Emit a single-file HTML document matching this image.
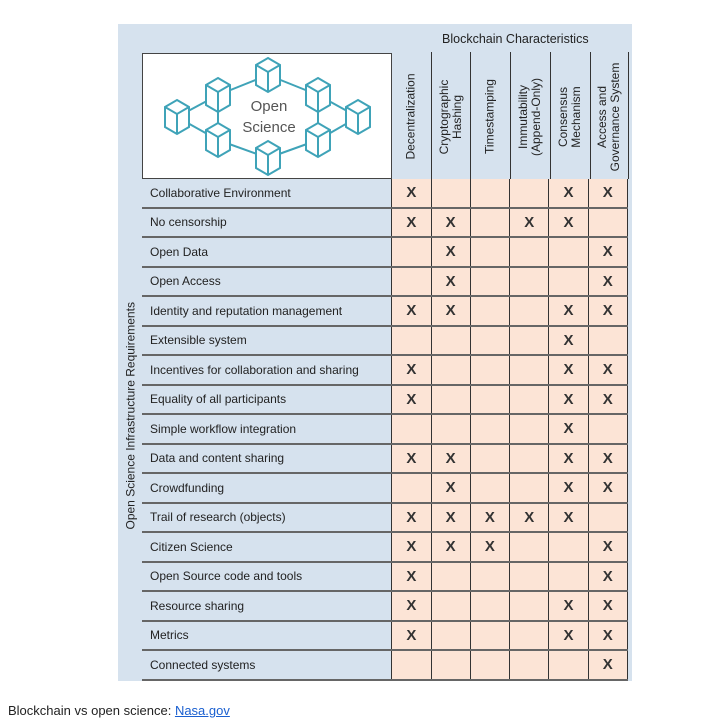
<!DOCTYPE html>
<html><head><meta charset="utf-8"><style>
body{margin:0;background:#fff;width:728px;height:725px;position:relative;font-family:"Liberation Sans",sans-serif;overflow:hidden}
.panel{position:absolute;left:118px;top:24px;width:514px;height:657px;background:#d6e2ee}
.img{position:absolute;left:142px;top:53px;width:248px;height:124px;background:#fff;border:1px solid #444;border-bottom:2px solid #444}
table{position:absolute;left:142px;top:179px;border-collapse:collapse;width:486px;font-size:12px;color:#222}
td{height:27.5px;border-bottom:2px solid #666;padding:0}
td.l{width:243px;padding-left:8px;background:#d6e2ee}
td.c{width:38.6px;background:#fce4d6;border-left:1px solid #333;text-align:center;font-size:15px;font-weight:bold;color:#333}
td.c:last-child{border-right:1px solid #333}
.hdr{position:absolute;top:52px;height:127px;border-left:1px solid #333;}
.vt{position:absolute;font-size:12px;color:#222;transform:rotate(-90deg);transform-origin:center;white-space:nowrap;text-align:center;line-height:13px}
</style></head><body>
<div class="panel"></div>
<div style="position:absolute;left:442px;top:32px;font-size:12.5px;color:#222">Blockchain Characteristics</div>
<div class="img"></div>
<svg style="position:absolute;left:0;top:0" width="728" height="200">
<defs><g id="cb" fill="#fff" stroke="#3fa3b8" stroke-width="2"><polygon points="0,-17 12,-10 12,10 0,17 -12,10 -12,-10"/><polyline fill="none" points="-12,-10 0,-3 12,-10"/><line x1="0" y1="-3" x2="0" y2="17"/></g></defs>
<g stroke="#3fa3b8" stroke-width="2">
<line x1="177" y1="117" x2="218" y2="95"/><line x1="177" y1="117" x2="218" y2="140"/><line x1="218" y1="95" x2="218" y2="140"/>
<line x1="218" y1="95" x2="268" y2="75"/><line x1="268" y1="75" x2="318" y2="95"/><line x1="318" y1="95" x2="318" y2="140"/>
<line x1="318" y1="95" x2="358" y2="117"/><line x1="358" y1="117" x2="318" y2="140"/><line x1="218" y1="140" x2="268" y2="158"/><line x1="268" y1="158" x2="318" y2="140"/></g>
<use href="#cb" x="177" y="117"/><use href="#cb" x="218" y="95"/><use href="#cb" x="268" y="75"/><use href="#cb" x="318" y="95"/><use href="#cb" x="358" y="117"/><use href="#cb" x="218" y="140"/><use href="#cb" x="268" y="158"/><use href="#cb" x="318" y="140"/>
<text x="269" y="111" font-family="Liberation Sans" font-size="15" fill="#555" text-anchor="middle">Open</text>
<text x="269" y="132" font-family="Liberation Sans" font-size="15" fill="#555" text-anchor="middle">Science</text>
</svg>
<div class="hdr" style="left:431px"></div><div class="hdr" style="left:470px"></div><div class="hdr" style="left:510px"></div><div class="hdr" style="left:550px"></div><div class="hdr" style="left:590px"></div><div class="hdr" style="left:628px"></div>
<div class="vt" style="left:351px;top:110px;width:120px">Decentralization</div>
<div class="vt" style="left:391px;top:104px;width:120px">Cryptographic<br>Hashing</div>
<div class="vt" style="left:430px;top:110px;width:120px">Timestamping</div>
<div class="vt" style="left:470px;top:104px;width:120px">Immutability<br>(Append-Only)</div>
<div class="vt" style="left:510px;top:104px;width:120px">Consensus<br>Mechanism</div>
<div class="vt" style="left:549px;top:104px;width:120px">Access and<br>Governance System</div>
<div class="vt" style="left:31px;top:423px;width:200px;font-size:12px">Open Science Infrastructure Requirements</div>
<table>
<tr><td class="l">Collaborative Environment</td><td class="c">X</td><td class="c"></td><td class="c"></td><td class="c"></td><td class="c">X</td><td class="c">X</td></tr>
<tr><td class="l">No censorship</td><td class="c">X</td><td class="c">X</td><td class="c"></td><td class="c">X</td><td class="c">X</td><td class="c"></td></tr>
<tr><td class="l">Open Data</td><td class="c"></td><td class="c">X</td><td class="c"></td><td class="c"></td><td class="c"></td><td class="c">X</td></tr>
<tr><td class="l">Open Access</td><td class="c"></td><td class="c">X</td><td class="c"></td><td class="c"></td><td class="c"></td><td class="c">X</td></tr>
<tr><td class="l">Identity and reputation management</td><td class="c">X</td><td class="c">X</td><td class="c"></td><td class="c"></td><td class="c">X</td><td class="c">X</td></tr>
<tr><td class="l">Extensible system</td><td class="c"></td><td class="c"></td><td class="c"></td><td class="c"></td><td class="c">X</td><td class="c"></td></tr>
<tr><td class="l">Incentives for collaboration and sharing</td><td class="c">X</td><td class="c"></td><td class="c"></td><td class="c"></td><td class="c">X</td><td class="c">X</td></tr>
<tr><td class="l">Equality of all participants</td><td class="c">X</td><td class="c"></td><td class="c"></td><td class="c"></td><td class="c">X</td><td class="c">X</td></tr>
<tr><td class="l">Simple workflow integration</td><td class="c"></td><td class="c"></td><td class="c"></td><td class="c"></td><td class="c">X</td><td class="c"></td></tr>
<tr><td class="l">Data and content sharing</td><td class="c">X</td><td class="c">X</td><td class="c"></td><td class="c"></td><td class="c">X</td><td class="c">X</td></tr>
<tr><td class="l">Crowdfunding</td><td class="c"></td><td class="c">X</td><td class="c"></td><td class="c"></td><td class="c">X</td><td class="c">X</td></tr>
<tr><td class="l">Trail of research (objects)</td><td class="c">X</td><td class="c">X</td><td class="c">X</td><td class="c">X</td><td class="c">X</td><td class="c"></td></tr>
<tr><td class="l">Citizen Science</td><td class="c">X</td><td class="c">X</td><td class="c">X</td><td class="c"></td><td class="c"></td><td class="c">X</td></tr>
<tr><td class="l">Open Source code and tools</td><td class="c">X</td><td class="c"></td><td class="c"></td><td class="c"></td><td class="c"></td><td class="c">X</td></tr>
<tr><td class="l">Resource sharing</td><td class="c">X</td><td class="c"></td><td class="c"></td><td class="c"></td><td class="c">X</td><td class="c">X</td></tr>
<tr><td class="l">Metrics</td><td class="c">X</td><td class="c"></td><td class="c"></td><td class="c"></td><td class="c">X</td><td class="c">X</td></tr>
<tr><td class="l">Connected systems</td><td class="c"></td><td class="c"></td><td class="c"></td><td class="c"></td><td class="c"></td><td class="c">X</td></tr>
</table>
<div style="position:absolute;left:8px;top:703px;font-size:13px;color:#222">Blockchain vs open science: <span style="color:#1a5fd0;text-decoration:underline">Nasa.gov</span></div>
</body></html>
